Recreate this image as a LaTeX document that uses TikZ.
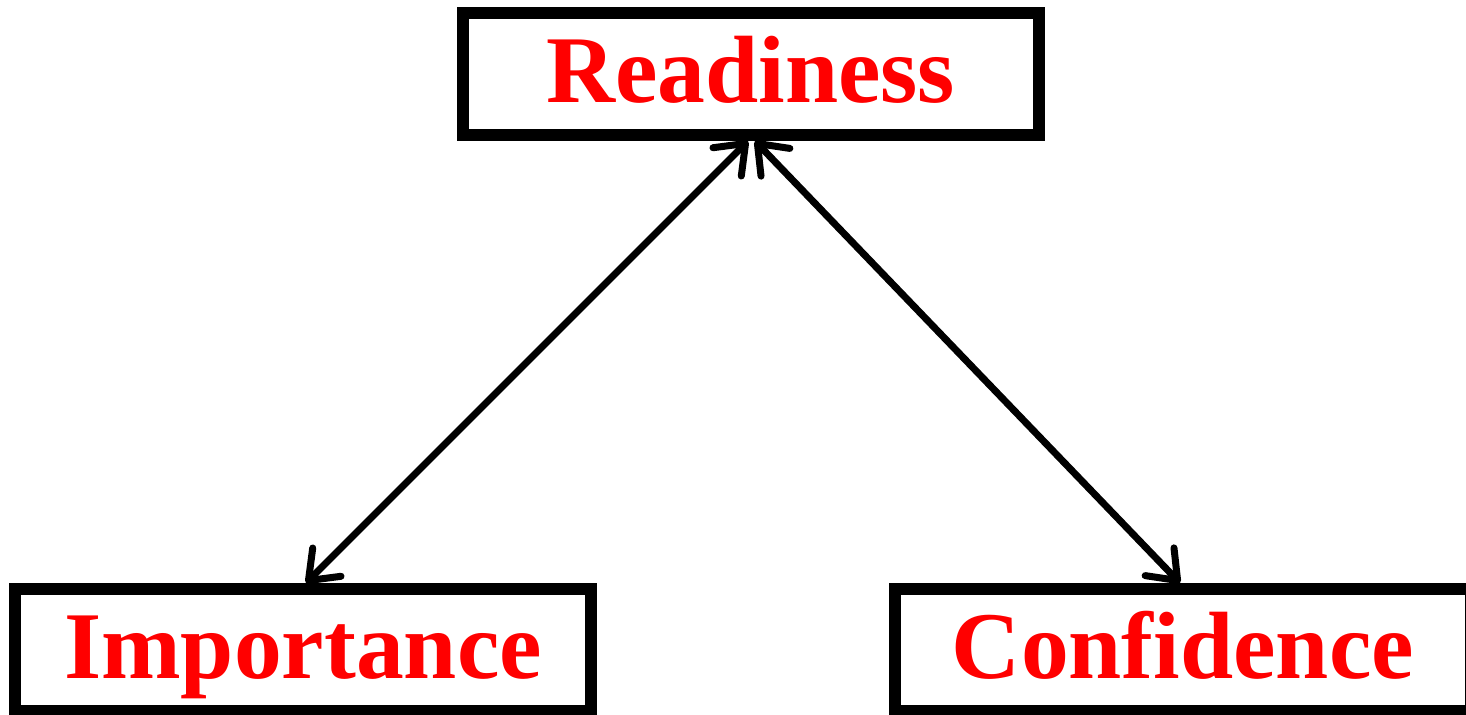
\documentclass[tikz,border=0pt]{standalone}
\usepackage{fontspec}
\setmainfont{Liberation Serif}
\usetikzlibrary{arrows.meta,calc}
\tikzset{
  label box/.style={draw=black, line width=6pt, fill=white,
    minimum width=288pt, minimum height=61pt, inner sep=0pt,
    text=red, font=\bfseries\fontsize{47.8}{50}\selectfont,
    text height=28pt, text depth=0pt},
  link/.style={line width=3.5pt, {Straight Barb[length=13pt,width=20pt,round]}-{Straight Barb[length=13pt,width=20pt,round]}}
}
\begin{document}
\begin{tikzpicture}[x=0.5pt,y=-0.5pt]
  \useasboundingbox (0,0) rectangle (1466,714);
  \clip (0,0) rectangle (1466,714);
  \node[label box] (ready) at (750.5,74) {Readiness};
  \node[label box] (imp) at (303,650) {Importance};
  \node[label box] (conf) at (1183,650) {Confidence};
  \coordinate (rl) at ($(ready.south)+(-2.5,0)$);
  \coordinate (rr) at ($(ready.south)+(4.5,0)$);
  \coordinate (il) at ($(imp.north)+(3,0)$);
  \coordinate (cr) at ($(conf.north)+(-3,0)$);
  \draw[link] (rl) -- (il);
  \draw[link] (rr) -- (cr);
\end{tikzpicture}
\end{document}
